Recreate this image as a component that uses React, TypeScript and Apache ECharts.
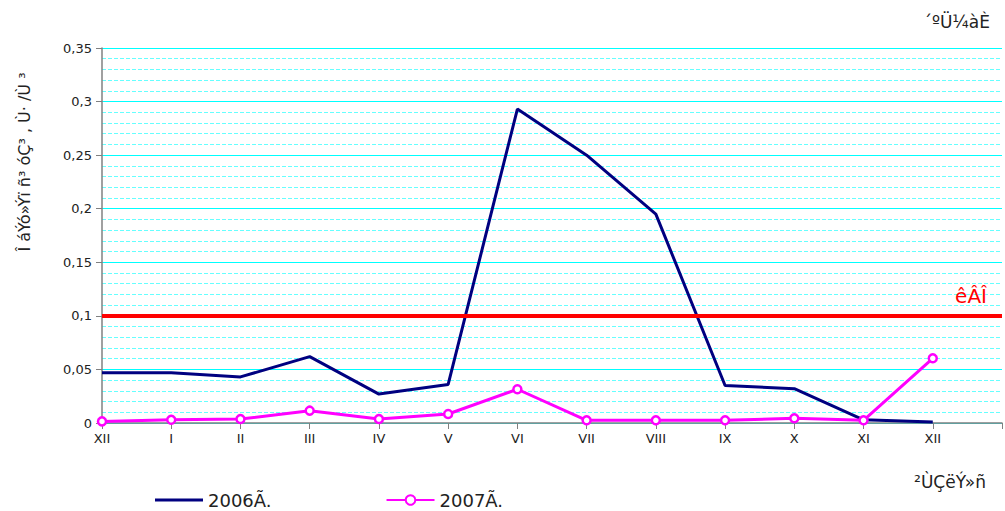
import React, { useEffect, useRef } from "react";
import * as echarts from "echarts";

const months = ["XII", "I", "II", "III", "IV", "V", "VI", "VII", "VIII", "IX", "X", "XI", "XII", ""];
const series2006 = [0.047, 0.047, 0.043, 0.062, 0.027, 0.036, 0.293, 0.25, 0.195, 0.035, 0.032, 0.003, 0.001];
const series2007 = [0.0015, 0.003, 0.0037, 0.0115, 0.0037, 0.0084, 0.0315, 0.0025, 0.0025, 0.0025, 0.0044, 0.0025, 0.0604];
const limitValue = 0.1;
const yMax = 0.35;
const yInterval = 0.05;

const FONT = "DejaVu Sans, Verdana, sans-serif";
const TEXT = "#222";

export default function App() {
  const ref = useRef<HTMLDivElement>(null);
  useEffect(() => {
    if (!ref.current) return;
    const chart = echarts.init(ref.current, null, { renderer: "svg" });
    chart.setOption({
      animation: false,
      textStyle: { fontFamily: FONT },
      grid: { left: 102, right: 0, top: 48, bottom: 88, containLabel: false },
      legend: {
        data: [
          {
            name: "2006Ã.",
            icon: "path://M0,0 L48,0 L48,3 L0,3 Z",
            itemStyle: { color: "#000080" },
          },
          { name: "2007Ã." },
        ],
        left: 150,
        top: 486,
        itemWidth: 48,
        itemHeight: 12,
        itemGap: 114,
        textStyle: { fontSize: 18, color: TEXT, fontFamily: FONT },
      },
      xAxis: {
        type: "category",
        data: months,
        boundaryGap: false,
        axisLine: { lineStyle: { color: "#808080", width: 1.5 } },
        axisTick: { show: true, length: 6, lineStyle: { color: "#808080" } },
        axisLabel: { color: TEXT, fontSize: 13, margin: 9, fontFamily: FONT },
        splitLine: { show: false },
      },
      yAxis: {
        type: "value",
        min: 0,
        max: yMax,
        interval: yInterval,
        axisLine: { show: true, lineStyle: { color: "#808080", width: 1.5 } },
        axisTick: { show: true, length: 6, lineStyle: { color: "#808080" } },
        axisLabel: {
          color: TEXT,
          fontSize: 13,
          margin: 10,
          fontFamily: FONT,
          formatter: (v: number) => String(Math.round(v * 100) / 100).replace(".", ","),
        },
        splitLine: { show: true, lineStyle: { color: "#00ffff", width: 1.2 } },
        minorTick: { show: false, splitNumber: 5 },
        minorSplitLine: { show: true, lineStyle: { color: "#00ffff", opacity: 0.6, width: 1, type: [4, 2] } },
      },
      series: [
        {
          name: "2006Ã.",
          type: "line",
          data: series2006,
          symbol: "none",
          lineStyle: { color: "#000080", width: 3 },
          itemStyle: { color: "#000080" },
          z: 3,
          markLine: {
            silent: true,
            symbol: "none",
            data: [{ yAxis: limitValue }],
            lineStyle: { color: "#ff0000", width: 4, type: "solid" },
            label: {
              show: true,
              position: "insideEndTop",
              formatter: "êÂÎ",
              color: "#ff0000",
              fontSize: 20,
              fontFamily: FONT,
              distance: [15, 10],
            },
          },
        },
        {
          name: "2007Ã.",
          type: "line",
          data: series2007,
          symbol: "circle",
          symbolSize: 8,
          showAllSymbol: true,
          lineStyle: { color: "#ff00ff", width: 3 },
          itemStyle: { color: "#ffffff", borderColor: "#ff00ff", borderWidth: 2.5 },
          z: 4,
        },
      ],
      graphic: [
        {
          type: "text",
          x: 24,
          y: 162,
          rotation: Math.PI / 2,
          style: {
            text: "Î áÝó»Ýï ñ³ óÇ³ , Ù· /Ù ³",
            fontSize: 16,
            fill: TEXT,
            fontFamily: FONT,
            align: "center",
            verticalAlign: "middle",
          },
        },
        {
          type: "text",
          x: 990,
          y: 22,
          style: {
            text: "´ºÜ¼àÈ",
            fontSize: 17,
            fill: TEXT,
            fontFamily: FONT,
            align: "right",
            verticalAlign: "middle",
          },
        },
        {
          type: "text",
          x: 986,
          y: 482,
          style: {
            text: "²ÙÇëÝ»ñ",
            fontSize: 17,
            fill: TEXT,
            fontFamily: FONT,
            align: "right",
            verticalAlign: "middle",
          },
        },
      ],
    });
    return () => chart.dispose();
  }, []);
  return (
    <div
      ref={ref}
      style={{ position: "fixed", left: 0, top: 0, width: 1005, height: 511, background: "#fff" }}
    />
  );
}
